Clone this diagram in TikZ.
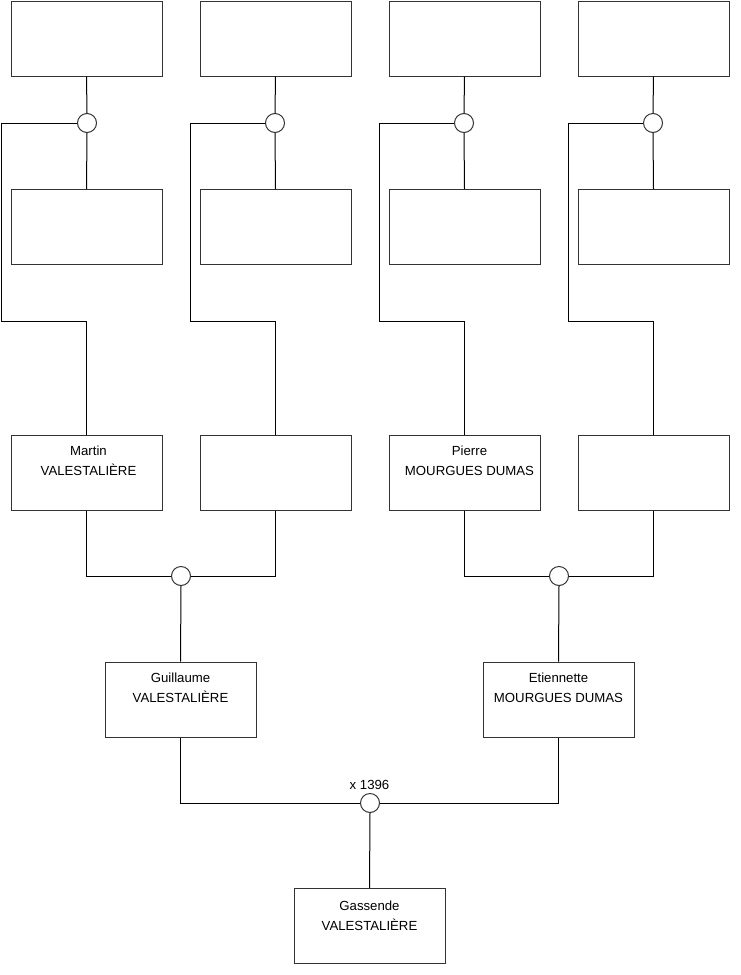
\documentclass[tikz,border=0pt]{standalone}
\usepackage{fontspec}
\setmainfont{Liberation Sans}
\begin{document}
\begin{tikzpicture}[x=1pt,y=-1pt,
  pbox/.style={draw=black!80,line width=1pt,minimum width=151pt,minimum height=75pt,inner sep=0pt,fill=white},
  knot/.style={circle,draw=black!80,line width=1pt,minimum size=19pt,inner sep=0pt,fill=white},
  wire/.style={draw=black,line width=1pt},
  txt/.style={font=\fontsize{13.2pt}{15pt}\selectfont,inner sep=0pt,anchor=base}]
\useasboundingbox (0,0) rectangle (740,975);
% top row
\foreach \i/\x in {1/86.5,2/275.5,3/464.5,4/653.5}{
  \node[pbox] (t\i) at (\x,38.5) {};
  \node[pbox] (s\i) at (\x,227) {};
}
\node[knot] (k1) at (87,123) {};
\node[knot] (k2) at (275,123) {};
\node[knot] (k3) at (464,123) {};
\node[knot] (k4) at (653,123) {};
% third row
\node[pbox] (m1) at (86.5,472.5) {};
\node[pbox] (m2) at (275.5,472.5) {};
\node[pbox] (m3) at (464.5,472.5) {};
\node[pbox] (m4) at (653.5,472.5) {};
\node[knot] (ka) at (181,576) {};
\node[knot] (kb) at (559,576) {};
\node[pbox] (g) at (180.5,699.5) {};
\node[pbox] (e) at (558.5,699.5) {};
\node[knot] (kc) at (370,803) {};
\node[pbox] (c) at (369.5,926) {};
% texts
\node[txt] (tm1) at (88.5,455.5) {Martin};
\node[txt] (tm2) at (88.5,475) {VALESTALIÈRE};
\node[txt] (tp1) at (469.5,455.5) {Pierre};
\node[txt] (tp2) at (469.5,475) {MOURGUES DUMAS};
\node[txt] (tg1) at (180.5,682.5) {Guillaume};
\node[txt] (tg2) at (180.5,702) {VALESTALIÈRE};
\node[txt] (te1) at (558.5,682.5) {Etiennette};
\node[txt] (te2) at (558.5,702) {MOURGUES DUMAS};
\node[txt] (tc1) at (369.5,910.5) {Gassende};
\node[txt] (tc2) at (369.5,930) {VALESTALIÈRE};
\node[txt] (lx) at (369.5,789.5) {x 1396};
% coordinates for bends
\foreach \i/\x in {1/1,2/190,3/379,4/568}{
  \coordinate (b\i) at (\x,321);
}
% connectors top
\foreach \i in {1,2,3,4}{
  \draw[wire] (t\i.south) -- (k\i.north);
  \draw[wire] (k\i.south) -- (s\i.north);
  \draw[wire] (k\i.west) -| (b\i) -| (m\i.north);
}
\draw[wire] (m1.south) |- (ka.west);
\draw[wire] (m2.south) |- (ka.east);
\draw[wire] (ka.south) -- (g.north);
\draw[wire] (m3.south) |- (kb.west);
\draw[wire] (m4.south) |- (kb.east);
\draw[wire] (kb.south) -- (e.north);
\draw[wire] (g.south) |- (kc.west);
\draw[wire] (e.south) |- (kc.east);
\draw[wire] (kc.south) -- (c.north);
\end{tikzpicture}
\end{document}
